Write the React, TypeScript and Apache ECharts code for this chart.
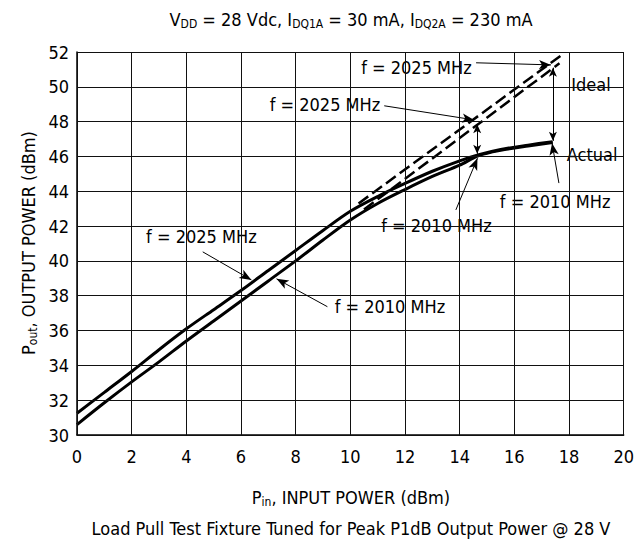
import React, { useEffect, useRef } from "react";
import * as echarts from "echarts";

// ---- Data ----
const pin2025 = [0, 1, 2, 3, 4, 5, 6, 7, 8, 9, 10, 11, 12, 13, 14, 14.7, 15.5, 16.5, 17.4];
const pout2025 = [31.25, 32.45, 33.65, 34.9, 36.1, 37.2, 38.3, 39.45, 40.6, 41.75, 42.85, 43.7, 44.45, 45.15, 45.75, 46.1, 46.4, 46.65, 46.85];

const pin2010 = [0, 1, 2, 3, 4, 5, 6, 7, 8, 9, 10, 11, 12, 13, 14, 14.7, 15.5, 16.5, 17.4];
const pout2010 = [30.6, 31.85, 33.05, 34.2, 35.4, 36.55, 37.7, 38.85, 40.0, 41.2, 42.35, 43.3, 44.1, 44.85, 45.5, 46.05, 46.35, 46.6, 46.8];

const idealPin2025 = [10.3, 17.75];
const idealPout2025 = [43.3, 51.85];
const idealPin2010 = [10.5, 17.65];
const idealPout2010 = [42.95, 51.35];

const xTicks = [0, 2, 4, 6, 8, 10, 12, 14, 16, 18, 20];
const yTicks = [30, 32, 34, 36, 38, 40, 42, 44, 46, 48, 50, 52];
const xMin = 0, xMax = 20, xStep = 2;
const yMin = 30, yMax = 52, yStep = 2;

// annotation texts (data coordinates of their centres)
const labelTexts = ["f = 2025 MHz", "f = 2025 MHz", "f = 2025 MHz", "f = 2010 MHz", "f = 2010 MHz", "f = 2010 MHz", "Ideal", "Actual"];
const labelX = [12.39, 9.05, 4.54, 13.12, 11.42, 17.45, 18.76, 18.8];
const labelY = [51.09, 48.97, 41.38, 42.01, 37.39, 43.41, 50.11, 46.09];

// arrows: from -> to (data coordinates); double = arrowheads on both ends
const arrowFrom = [[14.6, 51.38], [11.24, 48.91], [4.6, 40.52], [9.16, 37.37], [13.86, 42.93], [17.63, 44.47], [14.64, 47.85], [17.41, 51.1]];
const arrowTo = [[17.34, 51.26], [14.53, 48.1], [6.38, 38.91], [7.3, 38.97], [14.65, 45.9], [17.38, 46.76], [14.64, 46.15], [17.41, 46.9]];
const arrowDouble = [false, false, false, false, false, false, true, true];

const FONT = '"Liberation Sans Narrow", "DejaVu Sans Condensed", sans-serif';
const FS = 18;
const G = { left: 77, top: 52, right: 12, bottom: 108 };
const W = 637, H = 543;

const zip = (a: number[], b: number[]) => a.map((v, i) => [v, b[i]]);

export default function App() {
  const ref = useRef<HTMLDivElement>(null);
  useEffect(() => {
    if (!ref.current) return;
    const chart = echarts.init(ref.current, undefined, { renderer: "svg" });

    // same linear mapping as the grid (used only to place annotation texts)
    const toPx = (x: number, y: number) => [
      G.left + ((x - xMin) / (xMax - xMin)) * (W - G.left - G.right),
      G.top + ((yMax - y) / (yMax - yMin)) * (H - G.top - G.bottom),
    ];

    const markData = arrowFrom.map((f, i) => [
      { coord: f, symbol: arrowDouble[i] ? "arrow" : "none", symbolSize: arrowDouble[i] ? [6, 9] : [7, 12] },
      { coord: arrowTo[i], symbol: "arrow", symbolSize: arrowDouble[i] ? [6, 9] : [7, 12] },
    ]);

    const gridData = [
      ...xTicks.map((x) => [{ coord: [x, yMin] }, { coord: [x, yMax] }]),
      ...yTicks.map((y) => [{ coord: [xMin, y] }, { coord: [xMax, y] }]),
    ];

    const sub = { fontSize: 12, fontFamily: FONT, fill: "#000", padding: [10, 0, 0, 0], lineHeight: 12 };
    const norm = { fontSize: FS, fontFamily: FONT, fill: "#000", lineHeight: 22 };
    const centred = { align: "center", verticalAlign: "middle", textAlign: "center", textVerticalAlign: "middle" };

    const labelGraphics = labelTexts.map((t, i) => {
      const p = toPx(labelX[i], labelY[i]);
      return {
        type: "text", x: p[0], y: p[1], z: 5, silent: true,
        style: { ...centred, text: t, fill: "#000", fontSize: FS, fontFamily: FONT, backgroundColor: "#fff", padding: [2, 5, 2, 5] },
      };
    });

    chart.setOption({
      animation: false,
      grid: { ...G, show: false },
      xAxis: {
        type: "value", min: xMin, max: xMax, interval: xStep,
        axisLine: { show: true, onZero: false, lineStyle: { color: "#000", width: 1.5 } },
        axisTick: { show: false },
        splitLine: { show: true, lineStyle: { color: "#111", width: 1, type: "solid" } },
        axisLabel: { color: "#000", fontSize: FS, fontFamily: FONT, margin: 12 },
      },
      yAxis: {
        type: "value", min: yMin, max: yMax, interval: yStep,
        axisLine: { show: true, onZero: false, lineStyle: { color: "#000", width: 1.5 } },
        axisTick: { show: false },
        splitLine: { show: true, lineStyle: { color: "#111", width: 1, type: "solid" } },
        axisLabel: { color: "#000", fontSize: FS, fontFamily: FONT, margin: 8 },
      },
      series: [
        { type: "line", data: zip(pin2025, pout2025), smooth: 0.3, showSymbol: false, lineStyle: { color: "#000", width: 3 }, z: 3 },
        { type: "line", data: zip(pin2010, pout2010), smooth: 0.3, showSymbol: false, lineStyle: { color: "#000", width: 3 }, z: 3 },
        { type: "line", data: zip(idealPin2025, idealPout2025), showSymbol: false, lineStyle: { color: "#000", width: 2.5, type: [12, 5] }, z: 3 },
        { type: "line", data: zip(idealPin2010, idealPout2010), showSymbol: false, lineStyle: { color: "#000", width: 2.5, type: [12, 5] }, z: 3 },
        {
          type: "line", data: [], z: 4,
          markLine: {
            silent: true, animation: false, symbol: ["none", "none"],
            label: { show: false },
            lineStyle: { color: "#111", width: 1, type: "solid" },
            emphasis: { disabled: true },
            data: gridData,
          },
        },
        {
          type: "line", data: [], z: 6,
          markLine: {
            silent: true, animation: false,
            symbol: ["none", "arrow"],
            label: { show: false },
            lineStyle: { color: "#000", width: 1, type: "solid" },
            emphasis: { disabled: true },
            data: markData,
          },
        },
      ],
      graphic: [
        ...labelGraphics,
        {
          type: "text", x: 351, y: 19, z: 7, silent: true,
          style: { ...centred, text: "{n|V}{s|DD}{n| = 28 Vdc, I}{s|DQ1A}{n| = 30 mA, I}{s|DQ2A}{n| = 230 mA}", rich: { n: norm, s: sub } },
        },
        {
          type: "text", x: 351, y: 497, z: 7, silent: true,
          style: { ...centred, text: "{n|P}{s|in}{n|, INPUT POWER (dBm)}", rich: { n: norm, s: sub } },
        },
        {
          type: "text", x: 28, y: 243, z: 7, silent: true, rotation: Math.PI / 2,
          style: { ...centred, text: "{n|P}{s|out}{n|, OUTPUT POWER (dBm)}", rich: { n: norm, s: sub } },
        },
        {
          type: "text", x: 351, y: 528, z: 7, silent: true,
          style: { ...centred, text: "Load Pull Test Fixture Tuned for Peak P1dB Output Power @ 28 V", fill: "#000", fontSize: FS, fontFamily: FONT },
        },
      ],
    });

    return () => chart.dispose();
  }, []);
  return <div ref={ref} style={{ width: W, height: H, position: "absolute", left: 0, top: 0 }} />;
}
